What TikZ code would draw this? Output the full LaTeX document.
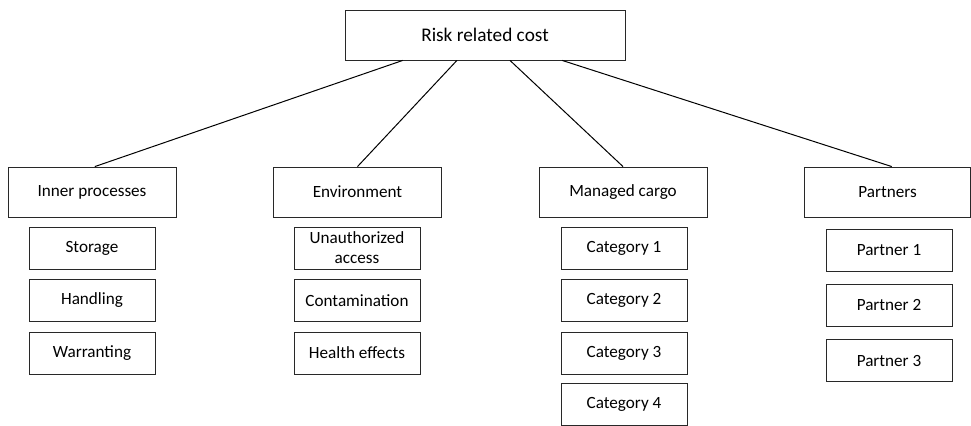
\documentclass[tikz,border=0pt]{standalone}
\usepackage{fontspec}
\setmainfont{Carlito}
\usetikzlibrary{positioning,calc}
\definecolor{boxLine}{RGB}{40,40,40}

\tikzset{
  costbox/.style={draw=boxLine, line width=0.6pt, fill=white, align=center,
    font=\fontsize{12}{14}\selectfont, inner sep=0pt},
  topbox/.style={costbox, minimum width=196pt, minimum height=35pt,
    font=\fontsize{13.5}{15}\selectfont},
  groupbox/.style={costbox, minimum width=117.6pt, minimum height=35pt},
  itembox/.style={costbox, minimum width=88.2pt, minimum height=29.4pt},
  link/.style={draw=black, line width=0.7pt}
}

\begin{document}
\begin{tikzpicture}[x=0.7pt, y=-0.7pt]
    \useasboundingbox (0,0) rectangle (971,425);

    % root
    \node[topbox] (root) at (485,35) {Risk related cost};

    % groups
    \node[groupbox] (inner) at (92,192) {Inner processes};
    \node[groupbox] (env) at (357.5,192) {Environment};
    \node[groupbox] (cargo) at (623,192) {Managed cargo};
    \node[groupbox, minimum width=116.2pt] (partners) at (887.5,192) {Partners};

    % items
    \node[itembox] (storage) at (92,248) {Storage};
    \node[itembox] (handling) at (92,300.5) {Handling};
    \node[itembox] (warrant) at (92,353) {Warranting};

    \node[itembox] (access) at (357,248) {Unauthorized\\access};
    \node[itembox] (contam) at (357,300.5) {Contamination};
    \node[itembox] (health) at (357,353) {Health effects};

    \foreach \i/\y in {1/248,2/300.5,3/353,4/404.5}
      \node[itembox] (cat\i) at (624,\y) {Category \i};

    \foreach \i/\y in {1/250,2/305,3/360.5}
      \node[itembox] (partner\i) at (889,\y) {Partner \i};

    % links from the root
    \draw[link] ($(root.south west)!0.207!(root.south east)$) -- ([xshift=2pt]inner.north);
    \draw[link] ($(root.south west)!0.4!(root.south east)$) -- (env.north);
    \draw[link] ($(root.south west)!0.589!(root.south east)$) -- (cargo.north);
    \draw[link] ($(root.south west)!0.775!(root.south east)$) -- ([xshift=3pt]partners.north);
  \end{tikzpicture}
\end{document}
